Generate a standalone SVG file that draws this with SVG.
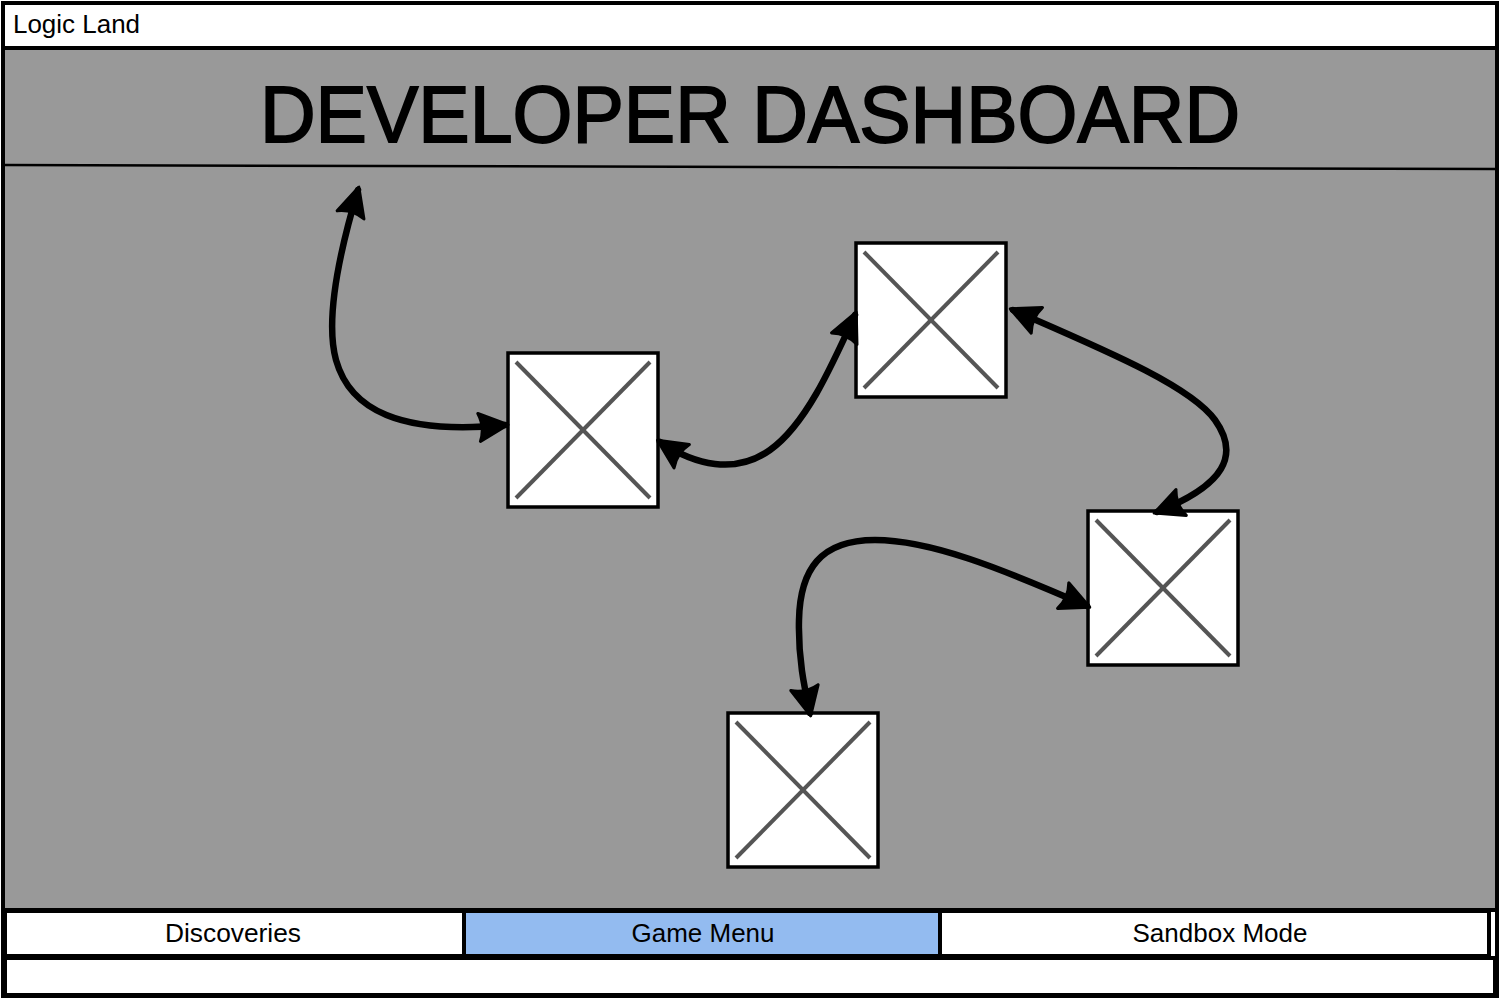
<svg xmlns="http://www.w3.org/2000/svg" width="1500" height="1000" viewBox="0 0 1500 1000">
  <style>
    .frame { stroke: #000; stroke-width: 4; }
    .txt { font-family: "Liberation Sans", "DejaVu Sans", sans-serif; fill: #000; }
    .img rect { fill: #fff; stroke: #000; stroke-width: 3.5; }
    .img line { stroke: #555; stroke-width: 4; }
    .conn path { fill: none; stroke: #000; stroke-width: 6.5; stroke-linecap: round; }
  </style>
  <defs>
    <marker id="arr" markerUnits="userSpaceOnUse" markerWidth="44" markerHeight="44" viewBox="-34 -22 44 44" refX="0" refY="0" orient="auto-start-reverse">
      <path d="M3,0 L-26,-14 Q-20,0 -26,14 Z" fill="#000" stroke="#000" stroke-width="3" stroke-linejoin="round"/>
    </marker>
  </defs>

  <g id="window">
    <rect x="3" y="3" width="1494" height="993" fill="#fff" class="frame"/>
    <rect x="3" y="48" width="1494" height="862" fill="#999999" class="frame"/>
    <text class="txt" x="13" y="33" font-size="25" textLength="127" lengthAdjust="spacingAndGlyphs">Logic Land</text>
  </g>

  <g id="header">
    <text class="txt" x="750" y="142" font-size="80" text-anchor="middle" textLength="980" lengthAdjust="spacingAndGlyphs" stroke="#000" stroke-width="1.8">DEVELOPER DASHBOARD</text>
    <path d="M3,165 L1497,169" stroke="#000" stroke-width="2.5" fill="none"/>
  </g>

  <g id="img1" class="img">
    <rect x="508" y="353" width="150" height="154"/>
    <line x1="516" y1="362" x2="650" y2="498"/>
    <line x1="650" y1="362" x2="516" y2="498"/>
  </g>
  <g id="img2" class="img">
    <rect x="856" y="243" width="150" height="154"/>
    <line x1="864" y1="252" x2="998" y2="388"/>
    <line x1="998" y1="252" x2="864" y2="388"/>
  </g>
  <g id="img3" class="img">
    <rect x="1088" y="511" width="150" height="154"/>
    <line x1="1096" y1="520" x2="1230" y2="656"/>
    <line x1="1230" y1="520" x2="1096" y2="656"/>
  </g>
  <g id="img4" class="img">
    <rect x="728" y="713" width="150" height="154"/>
    <line x1="736" y1="722" x2="870" y2="858"/>
    <line x1="870" y1="722" x2="736" y2="858"/>
  </g>

  <g id="connectors" class="conn">
    <path d="M358,190 C340,250 325,320 336,360 C350,410 400,435 505,425" marker-start="url(#arr)" marker-end="url(#arr)"/>
    <path d="M660,442 C695,465 735,475 770,450 C805,425 830,370 855,315" marker-start="url(#arr)" marker-end="url(#arr)"/>
    <path d="M1013,310 C1100,348 1190,385 1215,420 C1240,455 1225,485 1157,512" marker-start="url(#arr)" marker-end="url(#arr)"/>
    <path d="M1087,606 C1000,568 930,540 875,540 C820,540 800,570 799,620 C798,660 805,690 810,713" marker-start="url(#arr)" marker-end="url(#arr)"/>
  </g>

  <g id="tab-discoveries">
    <rect x="5" y="911" width="459" height="45" fill="#fff" stroke="#000" stroke-width="4"/>
    <text class="txt" x="233" y="942" font-size="25" text-anchor="middle" textLength="136" lengthAdjust="spacingAndGlyphs">Discoveries</text>
  </g>
  <g id="tab-gamemenu">
    <rect x="464" y="911" width="476" height="45" fill="#93bbf0" stroke="#000" stroke-width="4"/>
    <text class="txt" x="703" y="942" font-size="25" text-anchor="middle" textLength="143" lengthAdjust="spacingAndGlyphs">Game Menu</text>
  </g>
  <g id="tab-sandbox">
    <rect x="940" y="911" width="549" height="45" fill="#fff" stroke="#000" stroke-width="4"/>
    <text class="txt" x="1220" y="942" font-size="25" text-anchor="middle" textLength="175" lengthAdjust="spacingAndGlyphs">Sandbox Mode</text>
  </g>
  <g id="footer">
    <rect x="5" y="958" width="1490" height="37" fill="#fff" stroke="#000" stroke-width="4"/>
  </g>
</svg>
